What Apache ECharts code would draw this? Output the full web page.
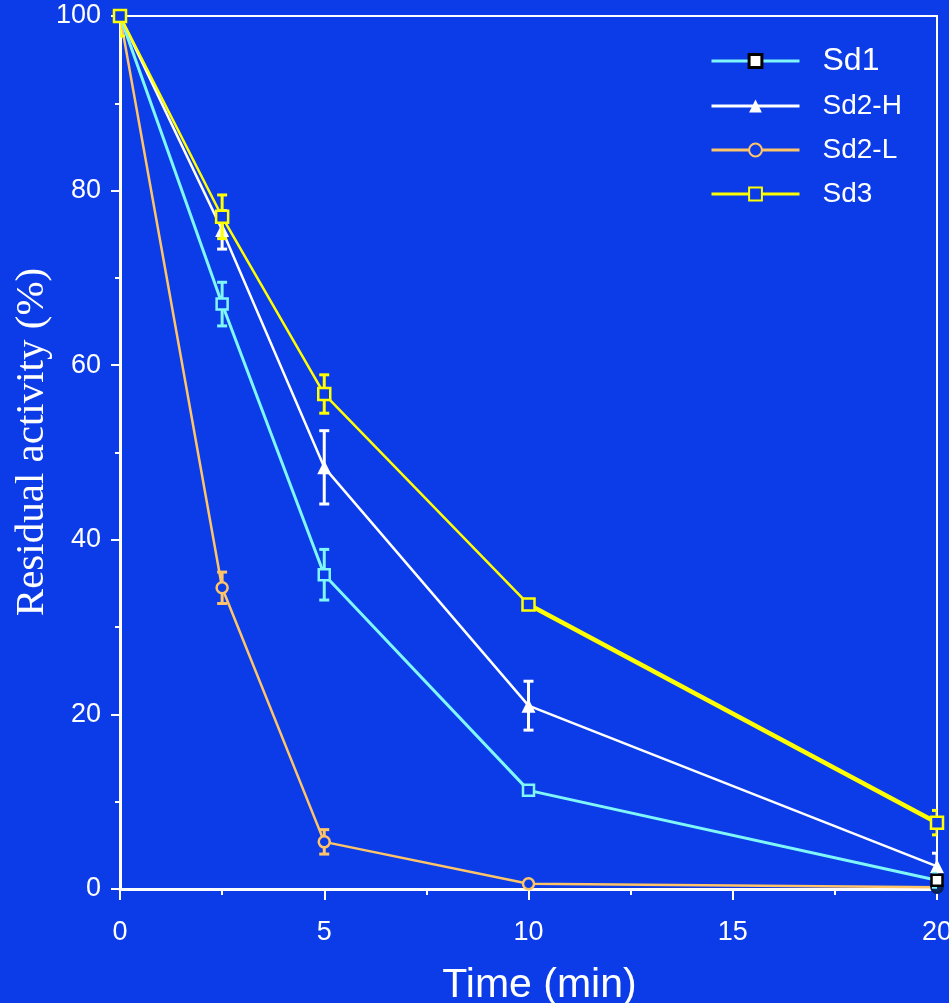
<!DOCTYPE html>
<html>
<head>
<meta charset="utf-8">
<script src="https://cdn.jsdelivr.net/npm/echarts@6/dist/echarts.min.js"></script>
<style>
  html, body { margin: 0; padding: 0; background: #0b3ce8; }
  #chart { width: 949px; height: 1003px; }
</style>
</head>
<body>
<div id="chart"></div>
<script>
// Time points (min)
const times = [0, 2.5, 5, 10, 20];
const xTicks = [0, 5, 10, 15, 20];
const yTicks = [0, 20, 40, 60, 80, 100];

// Residual activity (%) and standard deviations
const sd1 = [100, 67.0, 36.0, 11.3, 1.0];
const sd1Err = [0, 2.5, 2.9, 0, 0.8];
const sd2H = [100, 75.5, 48.3, 21.0, 2.6];
const sd2HErr = [0, 2.2, 4.2, 2.8, 1.5];
const sd2L = [100, 34.5, 5.4, 0.6, 0.2];
const sd2LErr = [0, 1.8, 1.4, 0, 0.3];
const sd3 = [100, 77.0, 56.7, 32.6, 7.6];
const sd3Err = [2.3, 2.5, 2.2, 0, 1.4];

const BG = '#0b3ce8';
const C_SD1 = '#80f6f8';
const C_SD2H = '#ffffff';
const C_SD2L = '#ffc468';
const C_SD3 = '#ffff00';

function pts(vals, lastStyle) {
  return times.map((t, i) => {
    const item = { value: [t, vals[i]] };
    if (lastStyle && i === times.length - 1) item.itemStyle = lastStyle;
    return item;
  });
}

function errSeries(name, vals, errs, color, z) {
  const data = times.map((t, i) => [t, vals[i] - errs[i], vals[i] + errs[i], errs[i]])
    .filter(d => d[3] > 0);
  return {
    type: 'custom',
    name: name + ' err',
    z: z,
    clip: true,
    silent: true,
    data: data,
    encode: { x: 0, y: [1, 2] },
    renderItem: function (params, api) {
      const lo = api.coord([api.value(0), api.value(1)]);
      const hi = api.coord([api.value(0), api.value(2)]);
      const w = 5;
      const style = { stroke: color, lineWidth: 3 };
      return {
        type: 'group',
        children: [
          { type: 'line', shape: { x1: lo[0], y1: lo[1], x2: hi[0], y2: hi[1] }, style: style },
          { type: 'line', shape: { x1: lo[0] - w, y1: lo[1], x2: lo[0] + w, y2: lo[1] }, style: style },
          { type: 'line', shape: { x1: hi[0] - w, y1: hi[1], x2: hi[0] + w, y2: hi[1] }, style: style }
        ]
      };
    }
  };
}

const chart = echarts.init(document.getElementById('chart'), null, { renderer: 'canvas' });

const axisFont = { color: '#ffffff', fontFamily: 'Liberation Sans, Arial, sans-serif', fontSize: 27 };

chart.setOption({
  backgroundColor: BG,
  animation: false,
  grid: {
    left: 120, right: 12, top: 16, bottom: 114,
    containLabel: false, outerBoundsMode: 'none',
    show: true, borderColor: '#ffffff', borderWidth: 2, backgroundColor: 'transparent'
  },
  // vertical y-axis title placed beside the tick labels
  graphic: [{
    type: 'text',
    x: 32, y: 442,
    rotation: Math.PI / 2,
    style: {
      text: 'Residual activity (%)',
      fill: '#ffffff',
      font: '41px "Liberation Serif", "Times New Roman", serif',
      align: 'center',
      verticalAlign: 'middle'
    }
  }],
  legend: {
    left: 705, top: 40,
    orient: 'vertical',
    itemWidth: 88, itemHeight: 16, itemGap: 14,
    lineStyle: { width: 3 },
    textStyle: { color: '#ffffff', fontFamily: 'Liberation Sans, Arial, sans-serif', fontSize: 28, lineHeight: 30, padding: [0, 0, 0, 18] },
    data: [
      { name: 'Sd1', itemStyle: { color: '#ffffff', borderColor: '#000000', borderWidth: 3 }, textStyle: { fontSize: 32 } },
      { name: 'Sd2-H' },
      { name: 'Sd2-L' },
      { name: 'Sd3' }
    ]
  },
  xAxis: {
    type: 'value', min: 0, max: 20, interval: 5,
    name: 'Time (min)', nameLocation: 'middle', nameGap: 76, nameMoveOverlap: false,
    nameTextStyle: { color: '#ffffff', fontFamily: 'Liberation Sans, Arial, sans-serif', fontSize: 41, padding: [0, 0, 0, 22] },
    axisLine: { show: true, onZero: false, lineStyle: { color: '#ffffff', width: 3 } },
    axisTick: { show: true, inside: false, length: 11, lineStyle: { color: '#ffffff', width: 2 } },
    minorTick: { show: true, splitNumber: 2, length: 6, lineStyle: { color: '#ffffff', width: 2 } },
    splitLine: { show: false },
    axisLabel: Object.assign({ margin: 30, formatter: v => (xTicks.includes(v) ? String(v) : '') }, axisFont)
  },
  yAxis: {
    type: 'value', min: 0, max: 100, interval: 20,
    axisLine: { show: true, lineStyle: { color: '#ffffff', width: 3 } },
    axisTick: { show: true, inside: false, length: 9, lineStyle: { color: '#ffffff', width: 2 } },
    minorTick: { show: true, splitNumber: 2, length: 5, lineStyle: { color: '#ffffff', width: 2 } },
    splitLine: { show: false },
    axisLabel: Object.assign({ margin: 19, formatter: v => (yTicks.includes(v) ? String(v) : '') }, axisFont)
  },
  series: [
    errSeries('Sd2-L', sd2L, sd2LErr, C_SD2L, 2),
    {
      name: 'Sd2-L', type: 'line', z: 3,
      data: pts(sd2L, { color: '#0b2a66', borderColor: '#08204f' }),
      lineStyle: { color: C_SD2L, width: 2.5 },
      symbol: 'circle', symbolSize: 11,
      itemStyle: { color: BG, borderColor: C_SD2L, borderWidth: 2.5 }
    },
    errSeries('Sd2-H', sd2H, sd2HErr, C_SD2H, 4),
    {
      name: 'Sd2-H', type: 'line', z: 5,
      data: pts(sd2H),
      lineStyle: { color: C_SD2H, width: 2.5 },
      symbol: 'triangle', symbolSize: 14,
      itemStyle: { color: C_SD2H, borderColor: C_SD2H, borderWidth: 0 }
    },
    errSeries('Sd1', sd1, sd1Err, C_SD1, 6),
    {
      name: 'Sd1', type: 'line', z: 7,
      data: pts(sd1, { color: '#ffffff', borderColor: '#000000' }),
      lineStyle: { color: C_SD1, width: 3 },
      symbol: 'rect', symbolSize: 11,
      itemStyle: { color: BG, borderColor: C_SD1, borderWidth: 2.5 }
    },
    errSeries('Sd3', sd3, sd3Err, C_SD3, 8),
    {
      name: 'Sd3', type: 'line', z: 9,
      data: pts(sd3),
      lineStyle: { color: C_SD3, width: 2.5 },
      symbol: 'rect', symbolSize: 12,
      itemStyle: { color: BG, borderColor: C_SD3, borderWidth: 2.5 }
    },
    {
      // heavier stroke on the late part of the Sd3 curve
      name: 'Sd3 tail', type: 'line', z: 8,
      data: times.map((t, i) => [t, sd3[i]]).slice(3),
      lineStyle: { color: C_SD3, width: 4.5 },
      symbol: 'none', silent: true
    }
  ]
});
</script>
</body>
</html>
